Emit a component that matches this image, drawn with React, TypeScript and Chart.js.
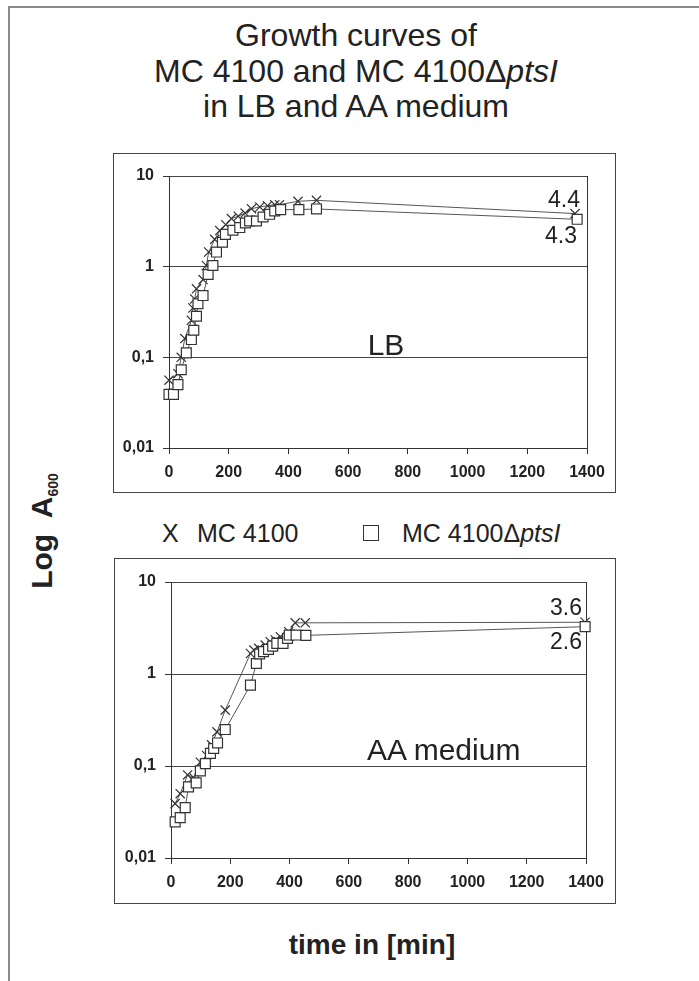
import React, { useEffect, useRef } from "react";
import { Chart, registerables } from "chart.js";

Chart.register(...registerables);

// ---- tick labels ----
const xTickValues = [0, 200, 400, 600, 800, 1000, 1200, 1400];
const xTickLabels = ["0", "200", "400", "600", "800", "1000", "1200", "1400"];
const yTickValues = [0.01, 0.1, 1, 10];
const yTickLabels = ["0,01", "0,1", "1", "10"];
const seriesNames = ["MC 4100", "MC 4100Δptsl"];

// ---- LB medium ----
const lbWtTimes = [0, 30, 41, 53, 75, 80, 86, 92, 114, 125, 133, 153, 170, 190, 209, 232, 255, 276, 304, 330, 354, 370, 432, 494, 1360];
const lbWtValues = [0.056, 0.066, 0.1, 0.161, 0.256, 0.35, 0.44, 0.57, 0.72, 1.03, 1.45, 2.0, 2.5, 2.9, 3.39, 3.6, 3.9, 4.36, 4.55, 4.7, 4.83, 4.83, 5.26, 5.39, 3.85];
const lbPtsTimes = [0, 15, 30, 41, 58, 75, 83, 92, 97, 114, 131, 147, 159, 179, 189, 214, 237, 256, 270, 293, 315, 337, 354, 374, 435, 494, 1367];
const lbPtsValues = [0.039, 0.039, 0.05, 0.073, 0.112, 0.157, 0.199, 0.284, 0.39, 0.48, 0.82, 1.03, 1.45, 1.86, 2.27, 2.52, 2.7, 3.03, 3.19, 3.19, 3.53, 3.78, 4.11, 4.26, 4.26, 4.33, 3.33];

// ---- AA medium ----
const aaWtTimes = [14, 31, 56, 76, 99, 120, 137, 155, 183, 268, 280, 296, 318, 335, 352, 369, 397, 419, 453, 1397];
const aaWtValues = [0.039, 0.05, 0.08, 0.075, 0.11, 0.13, 0.17, 0.235, 0.405, 1.67, 1.82, 1.9, 2.06, 2.24, 2.34, 2.54, 2.88, 3.6, 3.6, 3.65];
const aaPtsTimes = [14, 31, 48, 59, 85, 99, 116, 133, 144, 157, 183, 268, 288, 299, 312, 329, 343, 357, 378, 393, 399, 422, 455, 1397];
const aaPtsValues = [0.0247, 0.0275, 0.0353, 0.0593, 0.0655, 0.0885, 0.106, 0.137, 0.155, 0.178, 0.249, 0.757, 1.3, 1.65, 1.75, 1.85, 2.01, 2.15, 2.15, 2.44, 2.65, 2.65, 2.63, 3.27];

const FONT = "'Liberation Sans', Arial, sans-serif";
const INK = "#222";

type PanelProps = {
  left: number; top: number; width: number; height: number;
  padRight: number; padTop: number; yWidth: number; xHeight: number;
  wtT: number[]; wtV: number[]; ptsT: number[]; ptsV: number[];
};

function Panel(p: PanelProps) {
  const ref = useRef<HTMLCanvasElement>(null);
  useEffect(() => {
    const toPts = (t: number[], v: number[]) => t.map((x, i) => ({ x, y: v[i] }));
    const chart = new Chart(ref.current as HTMLCanvasElement, {
      type: "scatter",
      data: {
        datasets: [
          {
            label: seriesNames[1],
            data: toPts(p.ptsT, p.ptsV),
            showLine: true,
            pointStyle: "rect",
            pointRadius: 7,
            pointBackgroundColor: "#fff",
            pointBorderColor: "#333",
            pointBorderWidth: 1.2,
            borderColor: "#555",
            borderWidth: 1,
            clip: false,
          } as any,
          {
            label: seriesNames[0],
            data: toPts(p.wtT, p.wtV),
            showLine: true,
            pointStyle: "crossRot",
            pointRadius: 6.5,
            pointBorderColor: "#333",
            pointBorderWidth: 1.2,
            borderColor: "#555",
            borderWidth: 1,
            clip: false,
          } as any,
        ],
      },
      options: {
        responsive: false,
        animation: false,
        events: [],
        layout: { padding: { left: 0, right: p.padRight, top: p.padTop, bottom: 0 } },
        plugins: { legend: { display: false }, tooltip: { enabled: false } },
        scales: {
          x: {
            type: "linear",
            position: "bottom",
            min: 0,
            max: 1400,
            afterBuildTicks: (s: any) => { s.ticks = xTickValues.map((v) => ({ value: v })); },
            afterFit: (s: any) => { s.height = p.xHeight; },
            ticks: {
              autoSkip: false,
              maxRotation: 0,
              padding: 9,
              color: INK,
              font: { family: FONT, weight: "bold", size: 16 },
              callback: (_v: any, i: number) => xTickLabels[i],
            },
            grid: {
              color: (c: any) => (c.tick && c.tick.value === 1400 ? "#333" : "rgba(0,0,0,0)"),
              tickColor: "#333",
              tickLength: 6,
              lineWidth: 1,
            },
            border: { display: true, color: "#333", width: 1 },
          },
          y: {
            type: "logarithmic",
            position: "left",
            min: 0.01,
            max: 10,
            afterBuildTicks: (s: any) => { s.ticks = yTickValues.map((v) => ({ value: v })); },
            afterFit: (s: any) => { s.width = p.yWidth; },
            ticks: {
              autoSkip: false,
              padding: 9,
              color: INK,
              font: { family: FONT, weight: "bold", size: 16 },
              callback: (_v: any, i: number) => yTickLabels[i],
            },
            grid: { color: "#444", tickColor: "#333", tickLength: 6, lineWidth: 1 },
            border: { display: true, color: "#333", width: 1 },
          },
        },
      } as any,
    });
    return () => chart.destroy();
  }, []);
  return (
    <>
      <div style={{ position: "absolute", left: p.left, top: p.top, width: p.width, height: p.height, border: "1px solid #444", boxSizing: "border-box" }} />
      <canvas ref={ref} width={p.width} height={p.height} style={{ position: "absolute", left: p.left, top: p.top, width: p.width, height: p.height }} />
    </>
  );
}

// text placed by baseline
function T(props: { x: number; base: number; size: number; w?: number; align?: "left" | "right" | "center"; bold?: boolean; children: React.ReactNode }) {
  const w = props.w ?? 300;
  const align = props.align ?? "left";
  let left = props.x;
  if (align === "right") left = props.x - w;
  if (align === "center") left = props.x - w / 2;
  return (
    <div style={{ position: "absolute", left, top: props.base - 0.8465 * props.size, width: w, textAlign: align, fontFamily: FONT, fontSize: props.size, lineHeight: 1, fontWeight: props.bold ? "bold" : "normal", color: INK, whiteSpace: "nowrap" }}>
      {props.children}
    </div>
  );
}

export default function App() {
  return (
    <div style={{ position: "absolute", left: 0, top: 0, width: 699, height: 981, overflow: "hidden", background: "#fff" }}>
      <div style={{ position: "absolute", left: 8, top: 6, width: 700, height: 990, borderLeft: "2px solid #8a8a8a", borderTop: "2px solid #8a8a8a" }} />

      <T x={356} base={46} size={32} w={500} align="center">Growth curves of</T>
      <T x={356} base={82} size={32} w={500} align="center">MC 4100 and MC 4100Δ<i>ptsI</i></T>
      <T x={356} base={117} size={32} w={500} align="center">in LB and AA medium</T>

      <Panel left={113} top={153} width={503} height={340} padRight={29} padTop={23} yWidth={56} xHeight={45}
        wtT={lbWtTimes} wtV={lbWtValues} ptsT={lbPtsTimes} ptsV={lbPtsValues} />
      <T x={386} base={355} size={30} w={100} align="center">LB</T>
      <T x={580} base={207} size={23} w={100} align="right">4.4</T>
      <T x={577} base={243} size={23} w={100} align="right">4.3</T>

      <T x={162} base={542} size={25}>X</T>
      <T x={197} base={542} size={25}>{seriesNames[0]}</T>
      <div style={{ position: "absolute", left: 363, top: 525, width: 16, height: 16, border: "1px solid #333", boxSizing: "border-box" }} />
      <T x={402} base={542} size={25}>MC 4100Δ<i>ptsI</i></T>

      <Panel left={114} top={558} width={502} height={346} padRight={30} padTop={24} yWidth={57} xHeight={46}
        wtT={aaWtTimes} wtV={aaWtValues} ptsT={aaPtsTimes} ptsV={aaPtsValues} />
      <T x={367} base={760} size={30}>AA medium</T>
      <T x={582} base={615} size={23} w={100} align="right">3.6</T>
      <T x={582} base={649} size={23} w={100} align="right">2.6</T>

      <div style={{ position: "absolute", left: 42 - 90, top: 531 - 20, width: 180, height: 40, transform: "rotate(-90deg)", transformOrigin: "center", textAlign: "center", lineHeight: "40px", fontFamily: FONT, fontWeight: "bold", fontSize: 30, color: INK, whiteSpace: "nowrap" }}>
        Log&nbsp; A<span style={{ fontSize: 14, verticalAlign: "-6px" }}>600</span>
      </div>

      <T x={372} base={955} size={28} w={300} align="center" bold>time in [min]</T>
    </div>
  );
}
